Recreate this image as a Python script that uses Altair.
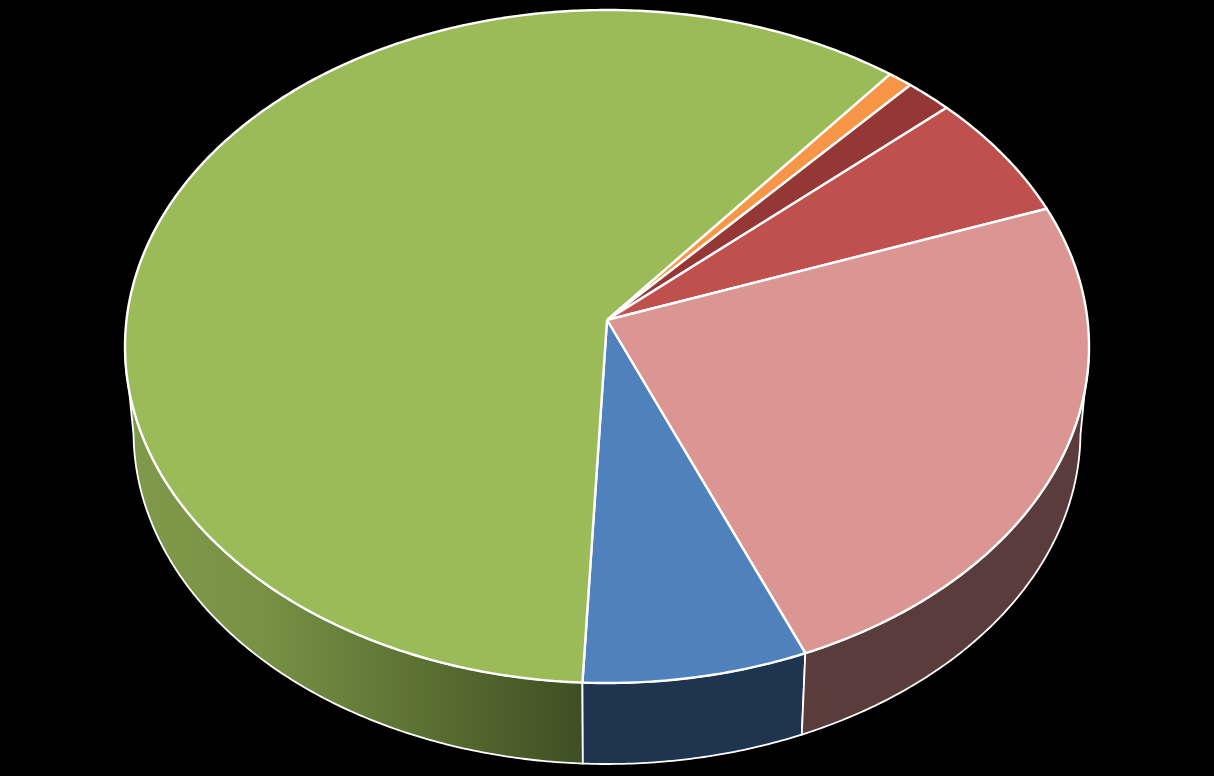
import math
import altair as alt
import pandas as pd

# Pie values (percent), clockwise from the first slice's start angle
slices = ["Orange", "Dark red", "Red", "Pink", "Blue", "Green"]
shares = [0.9, 1.7, 6.1, 24.3, 7.0, 60.0]
top_colors = ["#f79646", "#953735", "#c0504d", "#db9694", "#4f81bd", "#9bbb59"]
START_ANGLE = 38.7

# Perspective of the tilted pie, in picture pixels
CX = 607
K = -0.0788
TOP = dict(a=480.5, c=309.2, d=320.0)
BOTTOM = dict(a=472.0, c=297.9, d=405.9)
LEFT_TANGENT = 265
RIGHT_TANGENT = 95


def project(theta_deg, face):
    t = math.radians(theta_deg)
    u, v = math.sin(t), -math.cos(t)
    w = 1 + K * v
    return CX + face["a"] * u / w, (face["c"] * v + face["d"]) / w


def arc(a0, a1, face):
    n = max(2, int(abs(a1 - a0) / 0.5) + 1)
    return [project(a0 + (a1 - a0) * i / (n - 1), face) for i in range(n)]


def polygon(points):
    points = points + [points[0]]
    return pd.DataFrame(
        {"x": [p[0] for p in points], "y": [p[1] for p in points], "i": range(len(points))}
    )


x_scale = alt.Scale(domain=[8, 1206], nice=False, zero=False)
y_scale = alt.Scale(domain=[768, 8], nice=False, zero=False)


def shape(points, fill, width):
    return (
        alt.Chart(polygon(points))
        .mark_line(fill=fill, stroke="#ffffff", strokeWidth=width, strokeJoin="round", clip=False)
        .encode(
            x=alt.X("x:Q", scale=x_scale, axis=None),
            y=alt.Y("y:Q", scale=y_scale, axis=None),
            order="i:Q",
        )
    )


# Slice boundaries from the values
bounds = [START_ANGLE]
for s in shares:
    bounds.append(bounds[-1] + s * 3.6)
by_name = {n: (bounds[i], bounds[i + 1]) for i, n in enumerate(slices)}

layers = []

# Visible walls
green_wall = alt.Gradient(
    gradient="linear",
    x1=0, x2=1, y1=0, y2=0,
    stops=[
        alt.GradientStop(color="#80994a", offset=0),
        alt.GradientStop(color="#789144", offset=0.3),
        alt.GradientStop(color="#3e4f22", offset=1),
    ],
)
a0 = by_name["Green"][0]
layers.append(shape(arc(a0, LEFT_TANGENT, TOP) + arc(LEFT_TANGENT, a0, BOTTOM), green_wall, 1.8))
a0, a1 = by_name["Blue"]
layers.append(shape(arc(a0, a1, TOP) + arc(a1, a0, BOTTOM), "#1f344f", 1.8))
a1 = by_name["Pink"][1]
layers.append(shape(arc(RIGHT_TANGENT, a1, TOP) + arc(a1, RIGHT_TANGENT, BOTTOM), "#5a3c3d", 1.8))

# Top face
apex = (CX, TOP["d"])
for name, color in zip(slices, top_colors):
    a0, a1 = by_name[name]
    layers.append(shape([apex] + arc(a0, a1, TOP), color, 2.4))

chart = (
    alt.layer(*layers)
    .properties(
        width=1198,
        height=760,
        background="#000000",
        padding=0,
        autosize=alt.AutoSizeParams(type="none"),
    )
    .configure_view(stroke=None)
)

chart.save(
    "out.html",
    embed_options={
        "renderer": "svg",
        "actions": False,
        "defaultStyle": "html,body{background:#000;overflow:hidden}",
    },
)
